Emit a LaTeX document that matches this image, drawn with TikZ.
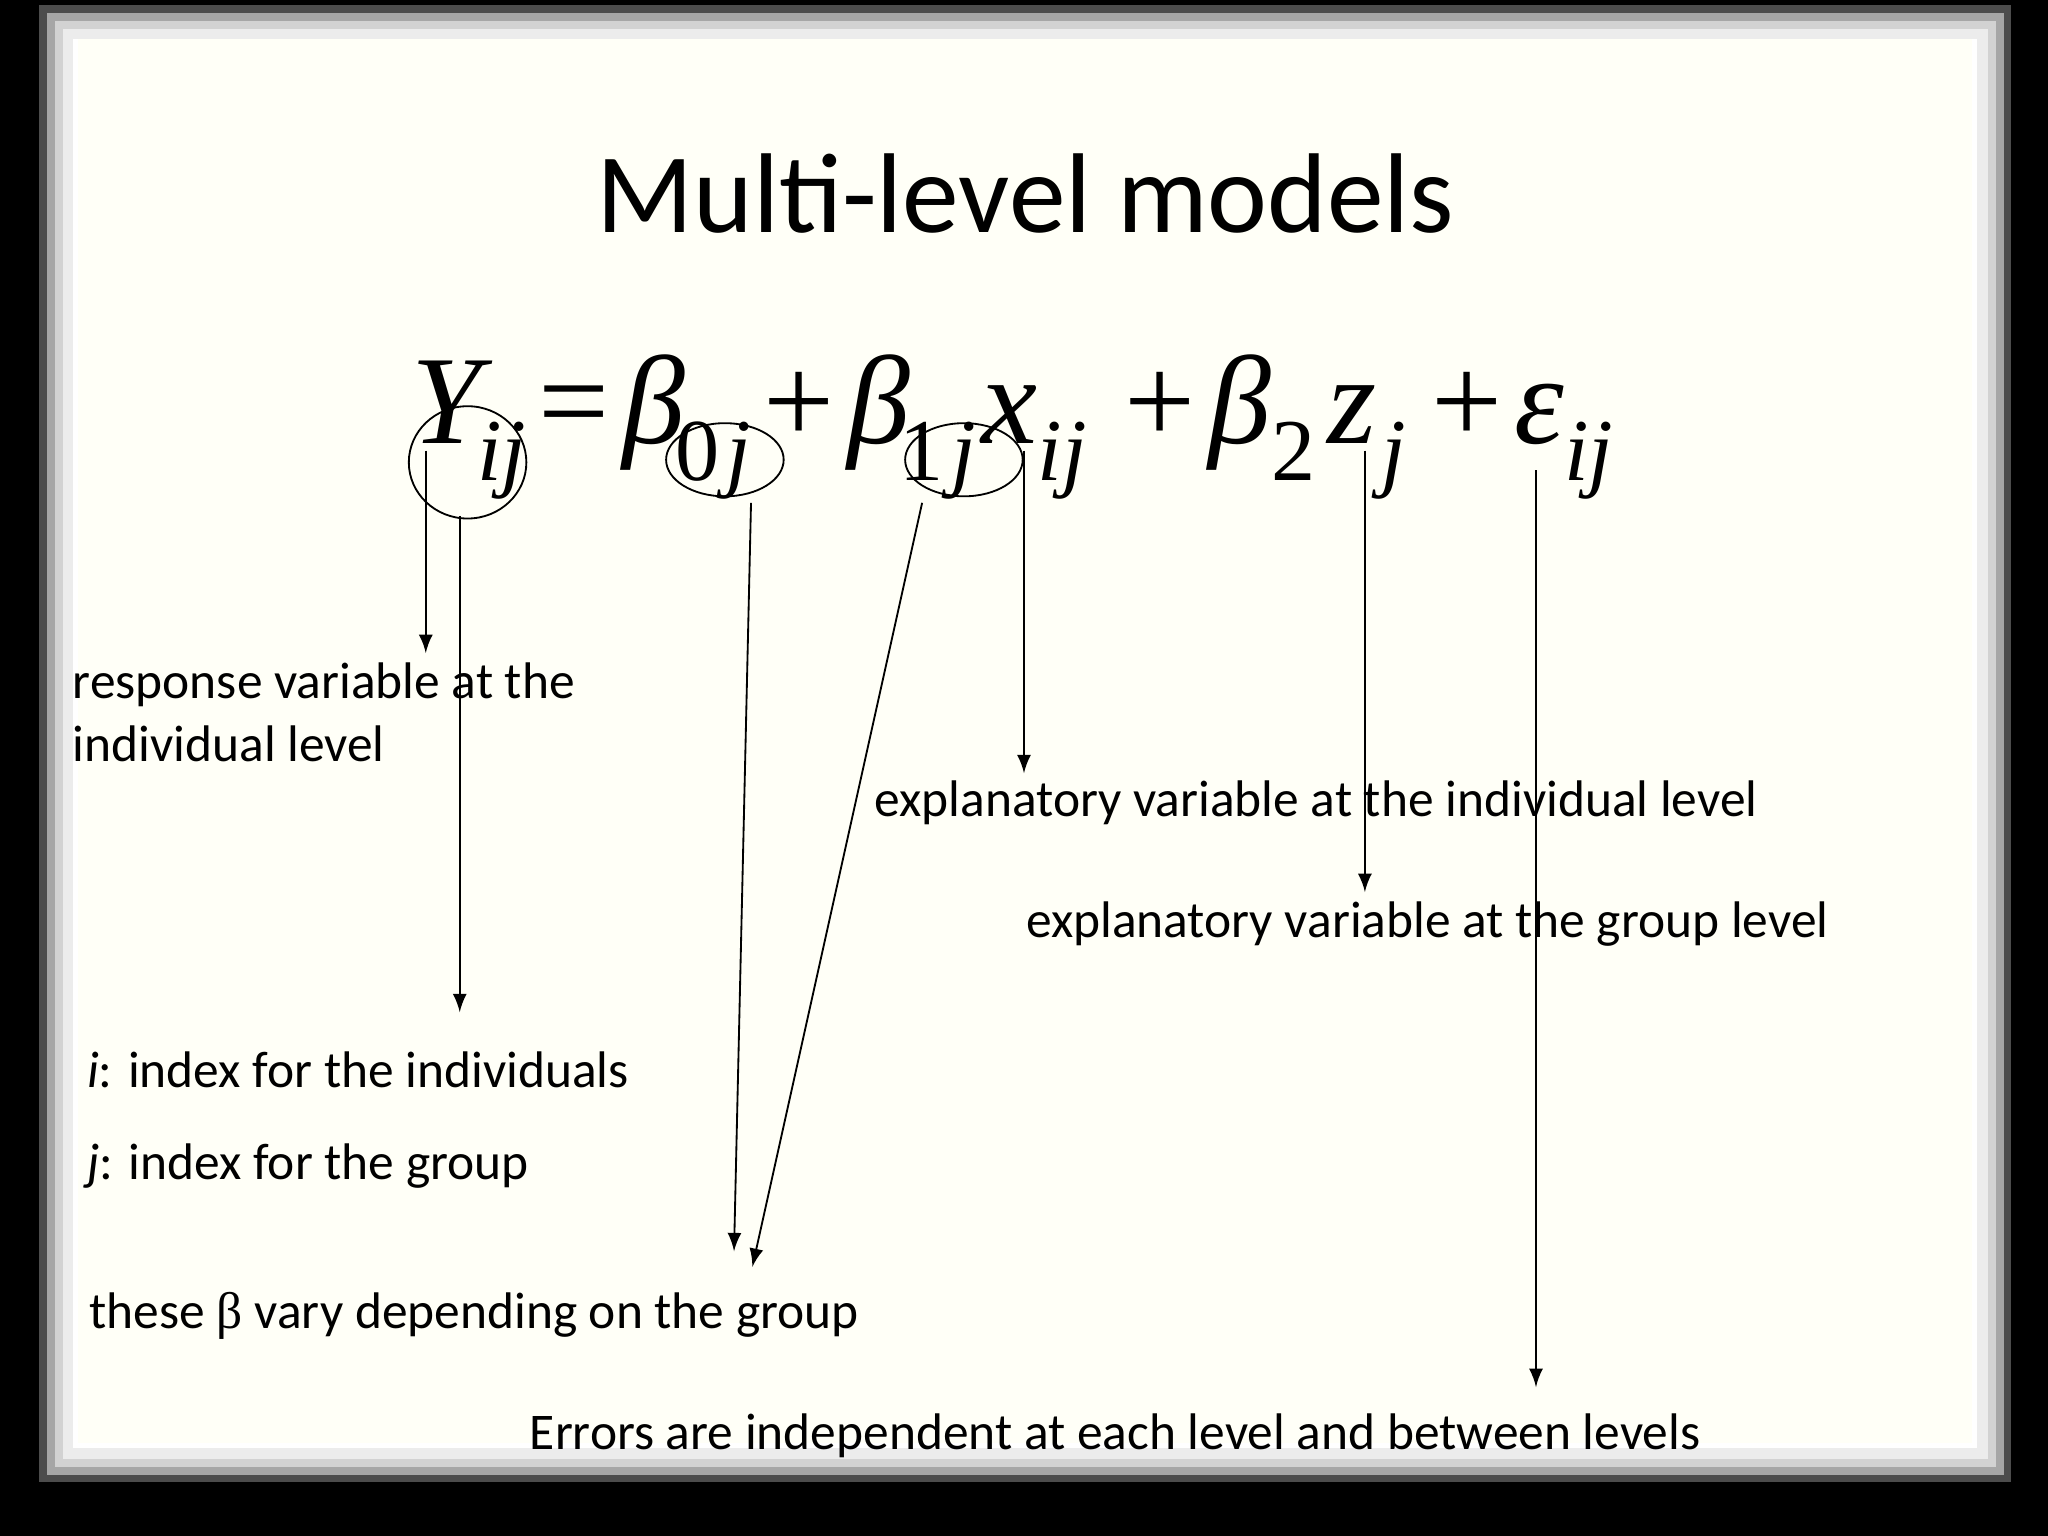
\documentclass[tikz,border=0pt]{standalone}
\usepackage{fontspec}
\setmainfont{Carlito}
\newfontfamily\eqf{Liberation Serif}
\newcommand{\sbx}[1]{\raisebox{-0.3em}{\fontsize{14pt}{14pt}\selectfont #1}}
\begin{document}
\begin{tikzpicture}[x=0.01cm,y=-0.01cm,
  lbl/.style={anchor=base west,font=\fontsize{11.2pt}{13pt}\selectfont,inner sep=0pt},
  arr/.style={-latex,thin},
  ring/.style={draw,thin}]
\useasboundingbox (0,0) rectangle (1568,1176);
\fill[black] (0,0) rectangle (1568,1176);
\foreach \i/\c in {0/gray!60!black,6/gray!70,12/gray!35,18/gray!15,26/white}{
  \fill[\c] (30+\i,4+\i) rectangle (1540-\i,1135-\i);}
\fill[yellow!3] (60,30) rectangle (1510,1105);
\node[font=\fontsize{24.7pt}{30pt}\selectfont] (title) at (785,148) {Multi-level models};
\node[inner sep=0pt] (eq) at (775,327) {\resizebox{9.2cm}{!}{\eqf\fontsize{20pt}{20pt}\selectfont
 \textit{Y}\kern-0.12em\sbx{\textit{ij}}\kern0.1em=\kern0.1em\textit{β}\kern-0.08em\sbx{0\kern0.08em\textit{j}}\kern0.1em+\kern0.1em\textit{β}\kern-0.08em\sbx{1\kern0.08em\textit{j}}\kern0.05em\textit{x}\sbx{\textit{ij}}\kern0.3em+\kern0.1em\textit{β}\sbx{2}\kern0.1em\textit{z}\sbx{\kern0.05em\textit{j}}\kern0.2em+\kern0.1em\textit{ε}\sbx{\textit{ij}}}};
\draw[ring] (358,354) ellipse [x radius=45,y radius=43];
\draw[ring] (555,352) ellipse [x radius=45,y radius=28];
\draw[ring] (738,352) ellipse [x radius=45,y radius=28];
\coordinate (s1) at (326,345); \coordinate (e1) at (326,500);
\coordinate (s2) at (352,395); \coordinate (e2) at (352,775);
\coordinate (s3) at (575,385); \coordinate (e3) at (562,958);
\coordinate (s4) at (706,385); \coordinate (e4) at (576,970);
\coordinate (s5) at (784,345); \coordinate (e5) at (784,592);
\coordinate (s6) at (1045,345); \coordinate (e6) at (1045,683);
\coordinate (s7) at (1176,360); \coordinate (e7) at (1176,1062);
\foreach \k in {1,...,7}{\draw[arr] (s\k) -- (e\k);}
\node[lbl] (l1) at (55,535) {response variable at the};
\node[lbl] (l2) at (55,583) {individual level};
\node[lbl] (l3) at (669,625) {explanatory variable at the individual level};
\node[lbl] (l4) at (785,718) {explanatory variable at the group level};
\node[lbl] (l5) at (66,833) {\textit{i}: index for the individuals};
\node[lbl] (l6) at (66,903) {\textit{j}: index for the group};
\node[lbl] (l7) at (68,1017) {these {\eqf β} vary depending on the group};
\node[lbl] (l8) at (405,1110) {Errors are independent at each level and between levels};
\end{tikzpicture}
\end{document}
